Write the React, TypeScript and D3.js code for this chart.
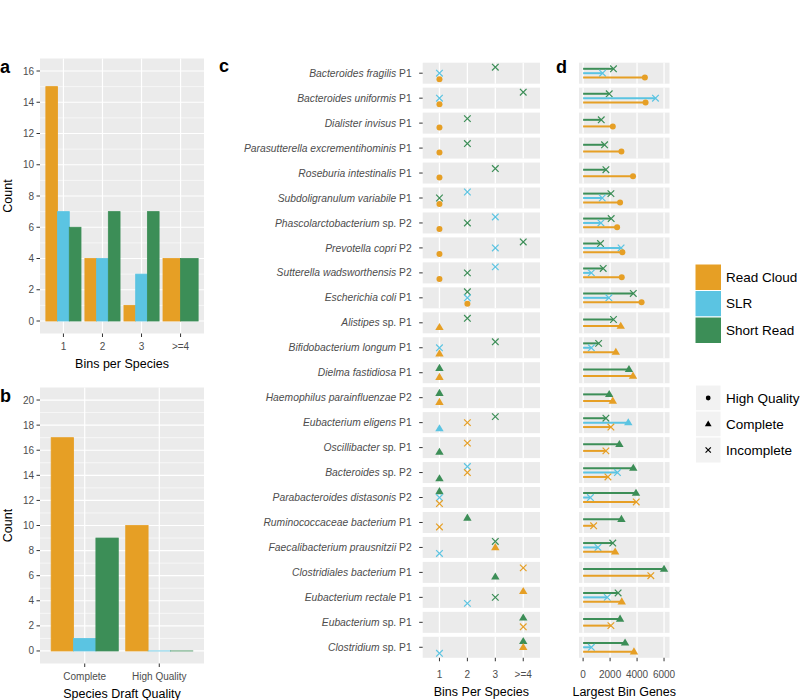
import React from "react";
import * as d3 from "d3";

// ---------- data ----------
const techNames = ["Read Cloud", "SLR", "Short Read"];
const techColors = ["#E69F25", "#5BC4E2", "#3C8E57"];

const binCategories = ["1", "2", "3", ">=4"];
const binCountRC = [15, 4, 1, 4];
const binCountSLR: (number | null)[] = [7, 4, 3, null];
const binCountSR = [6, 7, 7, 4];
const countTicksA = [0, 2, 4, 6, 8, 10, 12, 14, 16];

const qualityCategories = ["Complete", "High Quality"];
const qualCountRC = [17, 10];
const qualCountSLR = [1, 0];
const qualCountSR = [9, 0];
const countTicksB = [0, 2, 4, 6, 8, 10, 12, 14, 16, 18, 20];

const speciesItalic = [
  "Bacteroides fragilis", "Bacteroides uniformis", "Dialister invisus",
  "Parasutterella excrementihominis", "Roseburia intestinalis", "Subdoligranulum variabile",
  "Phascolarctobacterium", "Prevotella copri", "Sutterella wadsworthensis",
  "Escherichia coli", "Alistipes", "Bifidobacterium longum", "Dielma fastidiosa",
  "Haemophilus parainfluenzae", "Eubacterium eligens", "Oscillibacter", "Bacteroides",
  "Parabacteroides distasonis", "Ruminococcaceae bacterium", "Faecalibacterium prausnitzii",
  "Clostridiales bacterium", "Eubacterium rectale", "Eubacterium", "Clostridium",
];
const speciesPlain = [
  "P1", "P1", "P1", "P1", "P1", "P1", "sp. P2", "P2", "P2", "P1", "sp. P1", "P1", "P1",
  "P2", "P1", "sp. P1", "sp. P2", "P2", "P1", "P2", "P1", "P1", "sp. P1", "sp. P1",
];

// bins per species index into binCategories (0..3), null = no bin
const rcBins = [0, 0, 0, 0, 0, 0, 0, 0, 0, 1, 0, 0, 0, 0, 1, 1, 1, 0, 0, 2, 3, 3, 3, 3];
const slrBins: (number | null)[] = [0, 0, null, null, null, 1, 2, 2, 2, 1, null, 0, null, null, 0, null, 1, 0, null, 0, null, 1, null, 0];
const srBins = [2, 3, 1, 1, 2, 0, 1, 3, 1, 1, 1, 2, 0, 0, 2, 0, 0, 0, 1, 2, 2, 2, 3, 3];

// quality: HQ = High Quality, C = Complete, I = Incomplete
const rcQuality = ["HQ", "HQ", "HQ", "HQ", "HQ", "HQ", "HQ", "HQ", "HQ", "HQ", "C", "C", "C", "C", "I", "I", "I", "I", "I", "C", "I", "C", "I", "C"];
const slrQuality: (string | null)[] = ["I", "I", null, null, null, "I", "I", "I", "I", "I", null, "I", null, null, "C", null, "I", "I", null, "I", null, "I", null, "I"];
const srQuality = ["I", "I", "I", "I", "I", "I", "I", "I", "I", "I", "I", "I", "C", "C", "I", "C", "C", "C", "C", "I", "C", "I", "C", "C"];

// largest bin genes
const rcGenes = [4580, 4630, 2200, 2840, 3700, 2740, 2520, 2910, 2865, 4335, 2790, 2425, 3700, 2200, 2060, 1690, 1840, 3940, 780, 2375, 5020, 2865, 2060, 3770];
const slrGenes: (number | null)[] = [1440, 5365, null, null, null, 1420, 1320, 2815, 610, 1910, null, 610, null, null, 3350, null, 2545, 540, null, 1100, null, 1790, null, 610];
const srGenes = [2250, 1935, 1345, 1590, 1690, 2060, 2080, 1290, 1490, 3720, 2250, 1150, 3400, 1935, 1690, 2690, 3720, 3920, 2840, 2200, 6000, 2595, 2740, 3110];
const geneTicks = [0, 2000, 4000, 6000];

const qualityLegendKeys = ["HQ", "C", "I"];
const qualityLegendLabels = ["High Quality", "Complete", "Incomplete"];

// ---------- style ----------
const FONT = "'Liberation Sans', Arial, Helvetica, sans-serif";
const TICK_COL = "#333333";
const LABEL_COL = "#4D4D4D";
const PANEL_BG = "#EBEBEB";
const TICK_FS = 10;

function Marker({ shape, x, y, color, s = 1 }: { shape: string; x: number; y: number; color: string; s?: number }) {
  if (shape === "HQ") return <circle cx={x} cy={y} r={3 * s} fill={color} />;
  if (shape === "C")
    return <path d={`M${x},${y - 4.4 * s}L${x + 4.2 * s},${y + 2.7 * s}L${x - 4.2 * s},${y + 2.7 * s}Z`} fill={color} />;
  const a = 3.3 * s;
  return (
    <path
      d={`M${x - a},${y - a}L${x + a},${y + a}M${x - a},${y + a}L${x + a},${y - a}`}
      stroke={color}
      strokeWidth={1.2}
      fill="none"
    />
  );
}

function BarPanel({
  left, right, top, bottom, yDomain, ticks, cats, series, xLabel, letter, letterY,
}: {
  left: number; right: number; top: number; bottom: number; yDomain: [number, number]; ticks: number[];
  cats: string[]; series: (number | null)[][]; xLabel: string; letter: string; letterY: number;
}) {
  const n = cats.length;
  const x = d3.scaleLinear().domain([0.4, n + 0.6]).range([left, right]);
  const y = d3.scaleLinear().domain(yDomain).range([bottom, top]);
  const minor = d3.range(ticks[0] + 1, ticks[ticks.length - 1], 2);
  return (
    <g>
      <rect x={left} y={top} width={right - left} height={bottom - top} fill={PANEL_BG} />
      {minor.map((v) => (
        <line key={"mi" + v} x1={left} x2={right} y1={y(v)} y2={y(v)} stroke="#fff" strokeWidth={0.6} />
      ))}
      {ticks.map((v) => (
        <line key={"ma" + v} x1={left} x2={right} y1={y(v)} y2={y(v)} stroke="#fff" strokeWidth={1.2} />
      ))}
      {cats.map((c, i) => (
        <line key={"vx" + c} x1={x(i + 1)} x2={x(i + 1)} y1={top} y2={bottom} stroke="#fff" strokeWidth={1.2} />
      ))}
      {cats.map((c, i) => {
        const present = [0, 1, 2].filter((t) => series[t][i] != null);
        const m = present.length;
        return present.map((t, k) => {
          const v = series[t][i] as number;
          const x0 = x(i + 1 - 0.45 + (k * 0.9) / m);
          const x1 = x(i + 1 - 0.45 + ((k + 1) * 0.9) / m);
          const h = Math.max(y(0) - y(v), 0.01);
          return (
            <rect
              key={c + t}
              x={x0}
              y={y(0) - h}
              width={x1 - x0}
              height={h}
              fill={techColors[t]}
              stroke={techColors[t]}
              strokeWidth={0.8}
            />
          );
        });
      })}
      {ticks.map((v) => (
        <g key={"yt" + v}>
          <line x1={left - 3.5} x2={left} y1={y(v)} y2={y(v)} stroke={TICK_COL} strokeWidth={1} />
          <text x={left - 6} y={y(v)} dy="0.35em" textAnchor="end" fontSize={TICK_FS} fill={LABEL_COL}>
            {v}
          </text>
        </g>
      ))}
      {cats.map((c, i) => (
        <g key={"xt" + c}>
          <line x1={x(i + 1)} x2={x(i + 1)} y1={bottom} y2={bottom + 3.5} stroke={TICK_COL} strokeWidth={1} />
          <text x={x(i + 1)} y={bottom + 13} dy="0.35em" textAnchor="middle" fontSize={TICK_FS} fill={LABEL_COL}>
            {c}
          </text>
        </g>
      ))}
      <text x={(left + right) / 2} y={bottom + 30} dy="0.35em" textAnchor="middle" fontSize={12.5} fill="#000">
        {xLabel}
      </text>
      <text
        transform={`translate(${8},${(top + bottom) / 2}) rotate(-90)`}
        dy="0.35em"
        textAnchor="middle"
        fontSize={12.5}
        fill="#000"
      >
        Count
      </text>
      <text x={0} y={letterY} fontSize={18} fontWeight="bold" fill="#000">
        {letter}
      </text>
    </g>
  );
}

export default function App() {
  const nRows = speciesItalic.length;
  const rowTop = (i: number) => 62.7 + i * 24.96;
  const rowH = 21;
  const rowsBottom = rowTop(nRows - 1) + rowH;

  // panel c
  const cLeft = 422.7, cRight = 540;
  const xC = d3.scaleLinear().domain([0.4, 4.6]).range([cLeft, cRight]);
  // panel d
  const dLeft = 579, dRight = 669.5;
  const xD = d3.scaleLinear().domain([-305, 6405]).range([dLeft, dRight]);

  const binsBy = [rcBins, slrBins, srBins];
  const qualBy = [rcQuality, slrQuality, srQuality];
  const genesBy = [rcGenes, slrGenes, srGenes];

  return (
    <svg
      width={800}
      height={700}
      viewBox="0 0 800 700"
      style={{ position: "absolute", left: 0, top: 0, background: "#fff" }}
      fontFamily={FONT}
    >
      <rect x={0} y={0} width={800} height={700} fill="#fff" />
      <BarPanel
        left={40} right={204} top={58.5} bottom={333.5} yDomain={[-0.8, 16.8]} ticks={countTicksA}
        cats={binCategories} series={[binCountRC, binCountSLR, binCountSR]} xLabel="Bins per Species"
        letter="a" letterY={73}
      />
      <BarPanel
        left={40} right={204} top={387.5} bottom={663.5} yDomain={[-1, 21]} ticks={countTicksB}
        cats={qualityCategories} series={[qualCountRC, qualCountSLR, qualCountSR]} xLabel="Species Draft Quality"
        letter="b" letterY={402}
      />

      {/* panel c */}
      <text x={219} y={72} fontSize={18} fontWeight="bold" fill="#000">c</text>
      {speciesItalic.map((sp, i) => {
        const top = rowTop(i);
        const cy = top + rowH / 2;
        const entries = [0, 1, 2]
          .filter((t) => binsBy[t][i] != null)
          .sort((a, b) => (binsBy[b][i] as number) - (binsBy[a][i] as number) || b - a);
        const m = entries.length;
        return (
          <g key={"c" + i}>
            <rect x={cLeft} y={top} width={cRight - cLeft} height={rowH} fill={PANEL_BG} />
            {binCategories.map((c, j) => (
              <line key={c} x1={xC(j + 1)} x2={xC(j + 1)} y1={top} y2={top + rowH} stroke="#fff" strokeWidth={1.3} />
            ))}
            <line x1={cLeft - 3.5} x2={cLeft} y1={cy} y2={cy} stroke={TICK_COL} strokeWidth={1} />
            <text x={cLeft - 11} y={cy} dy="0.35em" textAnchor="end" fontSize={10.3} fill={LABEL_COL}>
              <tspan fontStyle="italic">{sp}</tspan>
              <tspan> {speciesPlain[i]}</tspan>
            </text>
            {entries.map((t, k) => {
              const yy = cy + (k - (m - 1) / 2) * (18 / m);
              return (
                <Marker
                  key={t}
                  shape={qualBy[t][i] as string}
                  x={xC((binsBy[t][i] as number) + 1)}
                  y={yy}
                  color={techColors[t]}
                />
              );
            })}
          </g>
        );
      })}
      {binCategories.map((c, j) => (
        <g key={"cx" + c}>
          <line x1={xC(j + 1)} x2={xC(j + 1)} y1={rowsBottom} y2={rowsBottom + 3.5} stroke={TICK_COL} strokeWidth={1} />
          <text x={xC(j + 1)} y={rowsBottom + 16.5} dy="0.35em" textAnchor="middle" fontSize={TICK_FS} fill={LABEL_COL}>
            {c}
          </text>
        </g>
      ))}
      <text x={(cLeft + cRight) / 2} y={rowsBottom + 33.5} dy="0.35em" textAnchor="middle" fontSize={12.5} fill="#000">
        Bins Per Species
      </text>

      {/* panel d */}
      <text x={556} y={73} fontSize={18} fontWeight="bold" fill="#000">d</text>
      {speciesItalic.map((sp, i) => {
        const top = rowTop(i);
        const cy = top + rowH / 2;
        const entries = [2, 1, 0].filter((t) => genesBy[t][i] != null);
        const m = entries.length;
        return (
          <g key={"d" + i}>
            <rect x={dLeft} y={top} width={dRight - dLeft} height={rowH} fill={PANEL_BG} />
            {geneTicks.map((v) => (
              <line key={v} x1={xD(v)} x2={xD(v)} y1={top} y2={top + rowH} stroke="#fff" strokeWidth={1.3} />
            ))}
            {entries.map((t, k) => {
              const yy = cy + (k - (m - 1) / 2) * (13.2 / m);
              const v = genesBy[t][i] as number;
              return (
                <g key={t}>
                  <line x1={xD(0)} x2={xD(v)} y1={yy} y2={yy} stroke={techColors[t]} strokeWidth={2} />
                  <Marker shape={qualBy[t][i] as string} x={xD(v)} y={yy} color={techColors[t]} />
                </g>
              );
            })}
          </g>
        );
      })}
      {geneTicks.map((v) => (
        <g key={"dx" + v}>
          <line x1={xD(v)} x2={xD(v)} y1={rowsBottom} y2={rowsBottom + 3.5} stroke={TICK_COL} strokeWidth={1} />
          <text x={xD(v)} y={rowsBottom + 16.5} dy="0.35em" textAnchor="middle" fontSize={TICK_FS} fill={LABEL_COL}>
            {v}
          </text>
        </g>
      ))}
      <text x={(dLeft + dRight) / 2} y={rowsBottom + 33.5} dy="0.35em" textAnchor="middle" fontSize={12.5} fill="#000">
        Largest Bin Genes
      </text>

      {/* legends */}
      {techNames.map((nm, i) => (
        <g key={"lg" + nm}>
          <rect x={695} y={264 + i * 26.5} width={26.5} height={26.5} fill={techColors[i]} stroke="#fff" strokeWidth={1} />
          <text x={726} y={264 + i * 26.5 + 13.25} dy="0.35em" fontSize={13.5} fill="#000">
            {nm}
          </text>
        </g>
      ))}
      {qualityLegendKeys.map((q, i) => (
        <g key={"lq" + q}>
          <rect x={695.5} y={385 + i * 26} width={25.5} height={26} fill="#F2F2F2" stroke="#fff" strokeWidth={1} />
          <Marker shape={q} x={708.2} y={385 + i * 26 + 13} color="#000" s={0.8} />
          <text x={726} y={385 + i * 26 + 13} dy="0.35em" fontSize={13.5} fill="#000">
            {qualityLegendLabels[i]}
          </text>
        </g>
      ))}
    </svg>
  );
}
